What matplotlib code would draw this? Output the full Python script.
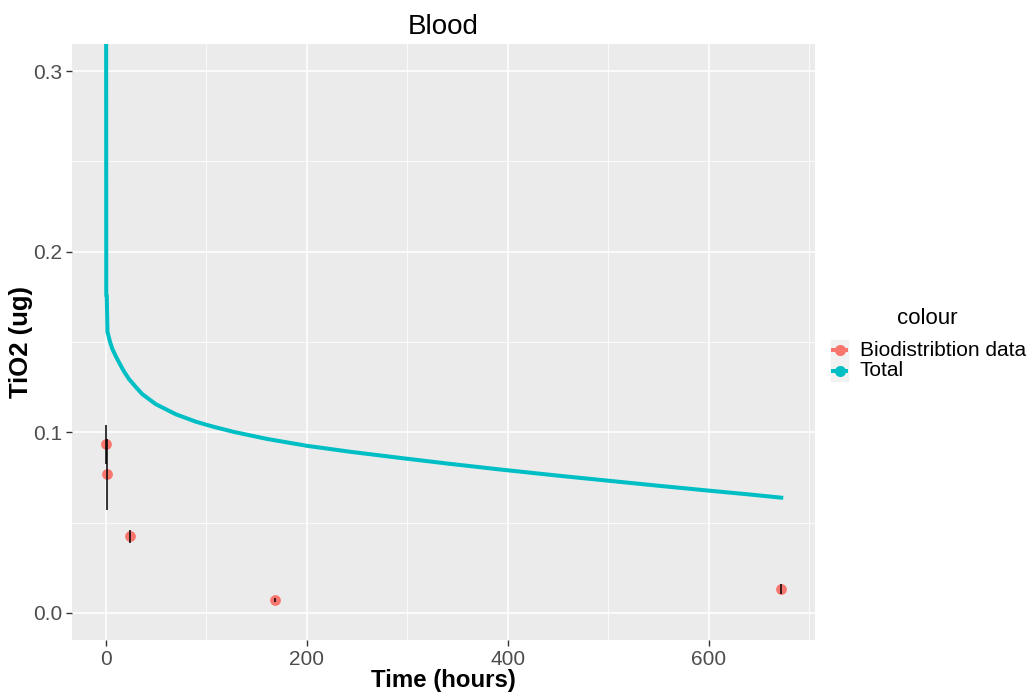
import matplotlib.pyplot as plt
from matplotlib.lines import Line2D
from matplotlib.patches import Rectangle

plt.rcParams["font.family"] = ["Liberation Sans", "DejaVu Sans"]

# model output (total TiO2 in blood)
time_model = [0, 0.1, 0.5, 1.0, 1.7, 2.3, 4, 6.6, 10, 13.2, 18, 23.2, 30, 36.4,
              49.7, 69.6, 90, 107.6, 127.5, 160.7, 200.4, 243.5, 293.2, 343,
              392.6, 450, 500, 550, 600, 640, 672]
total_model = [2.5, 0.6, 0.1757, 0.1756, 0.1555, 0.1544, 0.1505, 0.1461, 0.1421,
               0.1387, 0.1338, 0.1294, 0.1250, 0.1211, 0.1156, 0.1100, 0.1058,
               0.1030, 0.1002, 0.0963, 0.0925, 0.0892, 0.0858, 0.0825, 0.0794,
               0.0760, 0.0732, 0.0704, 0.0677, 0.0656, 0.0638]

# measured biodistribution data
time_obs = [0.5, 1.0, 24, 168, 672]
tio2_obs = [0.0933, 0.0767, 0.0424, 0.0072, 0.0132]
tio2_sd = [0.011, 0.0195, 0.0036, 0.001, 0.003]

RED = "#F8766D"
CYAN = "#00BFC4"

fig = plt.figure(figsize=(10.3, 6.94), dpi=100)
ax = fig.add_axes([72 / 1030, 1 - 640 / 694, (815 - 72) / 1030, (640 - 44) / 694])
ax.set_facecolor("#EBEBEB")

ax.plot(time_model, total_model, color=CYAN, lw=2.9, zorder=3,
        solid_joinstyle="round")
ax.scatter(time_obs, tio2_obs, s=60, color=RED, zorder=4, linewidths=0)
ax.errorbar(time_obs, tio2_obs, yerr=tio2_sd, fmt="none", ecolor="black",
            elinewidth=1.1, capsize=0, zorder=5)

ax.set_xlim(-33.6, 705.6)
ax.set_ylim(-0.015, 0.315)
ax.set_xticks([0, 200, 400, 600])
ax.set_xticks([100, 300, 500, 700], minor=True)
ax.set_yticks([0.0, 0.1, 0.2, 0.3])
ax.set_yticks([0.05, 0.15, 0.25], minor=True)
ax.set_yticklabels(["0.0", "0.1", "0.2", "0.3"])
ax.grid(which="major", color="white", lw=1.1)
ax.grid(which="minor", color="white", lw=0.55)
ax.set_axisbelow(True)
for s in ax.spines.values():
    s.set_visible(False)
ax.tick_params(which="major", length=4, width=1.0, color="#333333",
               labelsize=15, labelcolor="#4D4D4D", pad=3)
ax.tick_params(which="minor", length=0)

ax.set_title("Blood", fontsize=20, pad=7)
ax.set_xlabel("Time (hours)", fontsize=17.3, fontweight="bold", labelpad=0)
ax.set_ylabel("TiO2 (ug)", fontsize=18.5, fontweight="bold", labelpad=0)

# legend
fig.text(927 / 1030, 1 - 319 / 694, "colour", fontsize=16, ha="center", va="center")
labels = ["Biodistribtion data", "Total"]
colors = [RED, CYAN]
for i, (lab, c) in enumerate(zip(labels, colors)):
    yc = 350 + i * 20.5
    fig.patches.append(Rectangle((831 / 1030, 1 - (yc + 10) / 694), 17 / 1030, 20 / 694,
                                 transform=fig.transFigure, color="#F2F2F2", zorder=1))
    fig.lines.append(Line2D([833 / 1030, 846 / 1030], [1 - yc / 694, 1 - yc / 694],
                            transform=fig.transFigure, color=c, lw=2.9, zorder=2))
    fig.lines.append(Line2D([839.5 / 1030], [1 - yc / 694], transform=fig.transFigure,
                            marker="o", ms=8, color=c, mew=0, zorder=3))
    fig.text(860 / 1030, 1 - yc / 694, lab, fontsize=15, va="center")

fig.savefig("out.png", dpi=100)
